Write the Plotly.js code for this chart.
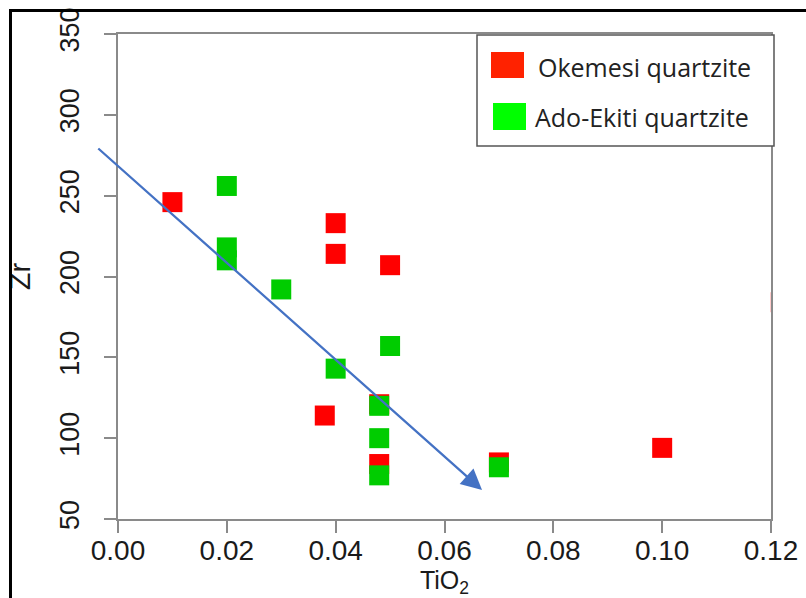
<!DOCTYPE html>
<html><head><meta charset="utf-8">
<script src="https://cdn.plot.ly/plotly-3.0.1.min.js"></script>
<style>
html,body{margin:0;padding:0;background:#fff;overflow:hidden}
#wrap{position:relative;width:806px;height:598px}
#chart{width:806px;height:598px}
#frame{position:absolute;left:9px;top:9px;width:820px;height:620px;border-left:3px solid #000;border-top:3px solid #000;pointer-events:none}
</style></head><body>
<div id="wrap"><div id="chart"></div><div id="frame"></div></div>
<script>
// ---- data ----
const seriesNames = ['Okemesi quartzite', 'Ado-Ekiti quartzite'];
const okemesiTiO2 = [0.010, 0.040, 0.040, 0.050, 0.038, 0.048, 0.048, 0.070, 0.100, 0.1218];
const okemesiZr   = [246,   233,   214,   207,   114,   121,   84,    85,    94,    184];
const adoTiO2     = [0.020, 0.020, 0.020, 0.030, 0.050, 0.040, 0.048, 0.048, 0.048, 0.070];
const adoZr       = [256,   218,   210,   192,   157,   143,   120,   100,   77,    82];
const xTickVals = [0, 0.02, 0.04, 0.06, 0.08, 0.10, 0.12];
const xTickText = ['0.00', '0.02', '0.04', '0.06', '0.08', '0.10', '0.12'];
const yTickVals = [50, 100, 150, 200, 250, 300, 350];
const trendTiO2 = [-0.0039, 0.0669];   // arrow tail, head
const trendZr   = [280, 68];

// ---- layout helpers ----
const M = {l:118, r:35, t:34, b:79};
const W = 806, H = 598;
const PW = W - M.l - M.r, PH = H - M.t - M.b;
const px = x => (x - M.l) / PW;
const py = y => (H - M.b - y) / PH;

const axisColor = '#8a8a8a';
const tickFont = {family:'Liberation Sans, Arial, sans-serif', color:'#1a1a1a'};

const traces = [
  {x: okemesiTiO2, y: okemesiZr, name: seriesNames[0], type:'scatter', mode:'markers',
   marker:{symbol:'square', size:20, color:'#FF0000', line:{width:0}}},
  {x: adoTiO2, y: adoZr, name: seriesNames[1], type:'scatter', mode:'markers',
   marker:{symbol:'square', size:20, color:'#00CC00', line:{width:0}}}
];

const layout = {
  width: W, height: H, margin: M,
  paper_bgcolor:'#fff', plot_bgcolor:'#fff',
  showlegend:false,
  xaxis:{range:[0,0.12], tickvals:xTickVals, ticktext:xTickText,
    ticks:'outside', ticklen:12, tickwidth:2, tickcolor:axisColor,
    showline:true, linecolor:axisColor, linewidth:2, mirror:true,
    showgrid:false, zeroline:false, ticklabelstandoff:-7,
    tickfont:Object.assign({size:28}, tickFont),
    title:{text:'TiO<sub>2</sub>', font:Object.assign({size:25}, tickFont), standoff:12}},
  yaxis:{range:[50,350], tickvals:yTickVals, tickangle:-90,
    ticks:'outside', ticklen:12, tickwidth:2, tickcolor:axisColor,
    showline:true, linecolor:axisColor, linewidth:2, mirror:true,
    showgrid:false, zeroline:false, ticklabelstandoff:14,
    tickfont:Object.assign({size:27}, tickFont),
    title:{text:'Zr', font:Object.assign({size:29}, tickFont), standoff:16}},
  shapes:[
    {type:'rect', xref:'paper', yref:'paper', x0:px(477), x1:px(774), y0:py(146), y1:py(35),
     line:{color:'#555', width:1.5}, fillcolor:'#fff', layer:'above'},
    {type:'rect', xref:'paper', yref:'paper', x0:px(491), x1:px(524), y0:py(78), y1:py(52),
     line:{width:0}, fillcolor:'#FF2200', layer:'above'},
    {type:'rect', xref:'paper', yref:'paper', x0:px(493), x1:px(526), y0:py(130), y1:py(103),
     line:{width:0}, fillcolor:'#00FF00', layer:'above'}
  ],
  annotations:[
    {xref:'paper', yref:'paper', x:px(536), y:py(67), xanchor:'left', yanchor:'middle',
     text:seriesNames[0], showarrow:false, font:{family:'Open Sans', size:25, color:'#222'}},
    {xref:'paper', yref:'paper', x:px(533), y:py(117), xanchor:'left', yanchor:'middle',
     text:seriesNames[1], showarrow:false, font:{family:'Open Sans', size:25, color:'#222'}},
    {xref:'x', yref:'y', axref:'x', ayref:'y',
     x:trendTiO2[1], y:trendZr[1], ax:trendTiO2[0], ay:trendZr[0],
     text:'', showarrow:true, arrowhead:2, arrowsize:1.8, arrowwidth:2.3,
     arrowcolor:'#4472C4', standoff:0, startstandoff:0}
  ]
};

Plotly.newPlot('chart', traces, layout, {displayModeBar:false, staticPlot:true});
</script>
</body></html>
